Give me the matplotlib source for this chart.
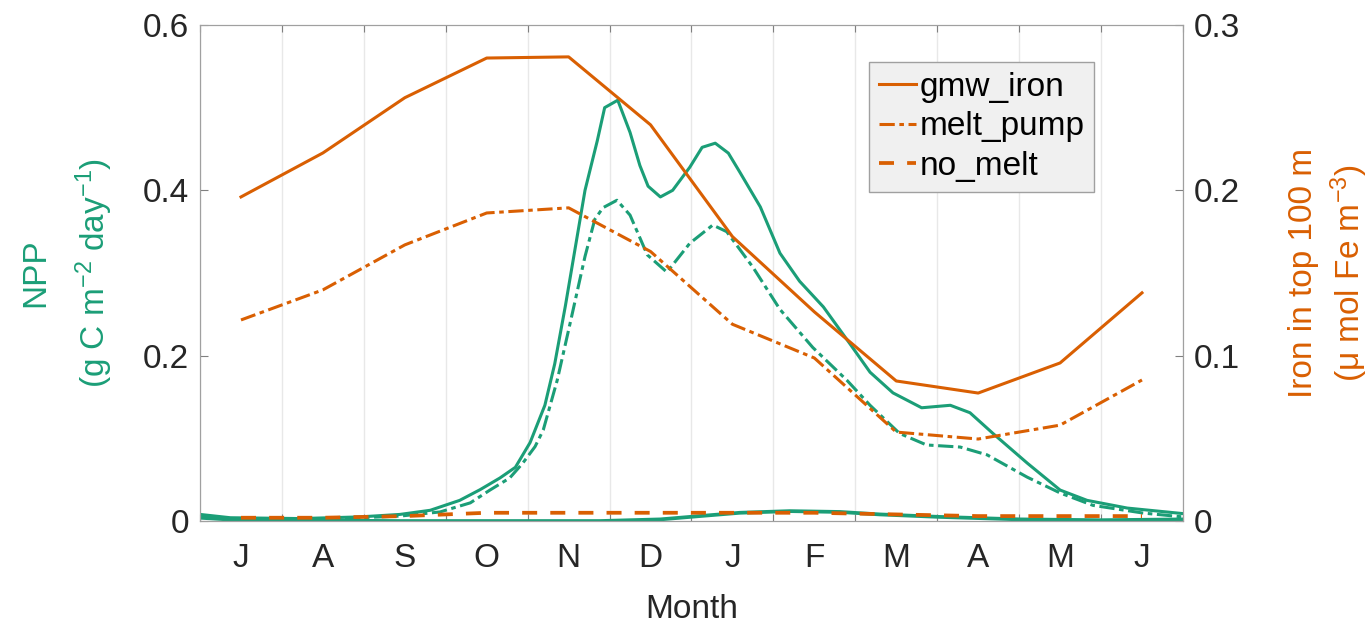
import numpy as np
import matplotlib
matplotlib.use("Agg")
import matplotlib.pyplot as plt

plt.rcParams['font.family'] = ['Liberation Sans', 'DejaVu Sans']
plt.rcParams['mathtext.fontset'] = 'custom'
plt.rcParams['mathtext.rm'] = 'Liberation Sans'
plt.rcParams['mathtext.it'] = 'Liberation Sans:italic'

green = '#1b9e77'
orange = '#d95f02'

months = ['J', 'A', 'S', 'O', 'N', 'D', 'J', 'F', 'M', 'A', 'M', 'J']
mid_month = np.arange(0.5, 12, 1)

# iron in top 100 m, monthly values (right axis)
iron_gmw = [0.196, 0.2226, 0.256, 0.280, 0.2807, 0.2396, 0.172, 0.1265, 0.0847, 0.0774, 0.0956, 0.138]
iron_pump = [0.1216, 0.1398, 0.167, 0.1863, 0.1894, 0.163, 0.119, 0.0986, 0.0538, 0.0496, 0.058, 0.0853]
iron_nomelt = [0.002, 0.002, 0.003, 0.005, 0.005, 0.005, 0.005, 0.005, 0.004, 0.003, 0.003, 0.003]

# NPP (left axis), read along the season (x in months since start of July)
npp_gmw_x = [0.00, 0.37, 1.22, 1.95, 2.44, 2.81, 3.17, 3.42, 3.66, 3.85, 4.03, 4.21, 4.33, 4.46,
             4.58, 4.70, 4.85, 4.94, 5.10, 5.25, 5.37, 5.47, 5.62, 5.77, 5.98, 6.13, 6.29, 6.45,
             6.59, 6.84, 7.08, 7.32, 7.61, 7.93, 8.18, 8.46, 8.81, 9.16, 9.40, 9.68, 10.10,
             10.50, 10.83, 11.32, 12.00]
npp_gmw = [0.008, 0.004, 0.003, 0.005, 0.008, 0.013, 0.025, 0.038, 0.052, 0.065, 0.095, 0.14,
           0.19, 0.26, 0.33, 0.40, 0.46, 0.50, 0.509, 0.47, 0.43, 0.405, 0.392, 0.40, 0.428,
           0.452, 0.457, 0.445, 0.422, 0.38, 0.324, 0.29, 0.259, 0.215, 0.18, 0.155, 0.137,
           0.140, 0.131, 0.106, 0.070, 0.0375, 0.025, 0.0157, 0.009]

npp_pump_x = [0.00, 0.37, 1.22, 1.95, 2.44, 2.93, 3.30, 3.54, 3.78, 3.94, 4.09, 4.19, 4.36,
              4.52, 4.70, 4.82, 4.92, 5.09, 5.25, 5.46, 5.70, 5.98, 6.26, 6.43, 6.75, 7.08,
              7.48, 7.90, 8.18, 8.54, 8.87, 9.28, 9.61, 10.10, 10.50, 10.90, 11.51, 12.00]
npp_pump = [0.006, 0.003, 0.002, 0.004, 0.006, 0.011, 0.022, 0.0375, 0.052, 0.07, 0.09, 0.11,
            0.17, 0.24, 0.32, 0.365, 0.379, 0.388, 0.370, 0.322, 0.301, 0.336, 0.358, 0.350,
            0.307, 0.256, 0.21, 0.17, 0.14, 0.106, 0.092, 0.0895, 0.080, 0.053, 0.034, 0.019,
            0.0097, 0.005]

npp_nomelt_x = [0.00, 0.50, 2.44, 4.88, 5.62, 6.10, 6.59, 7.20, 7.81, 8.30, 9.03, 10.01, 10.99, 12.00]
npp_nomelt = [0.004, 0.001, 0.0, 0.0, 0.002, 0.006, 0.010, 0.012, 0.011, 0.008, 0.005, 0.002, 0.001, 0.002]

fs = 24

fig = plt.figure(figsize=(13.72, 6.24), dpi=100)
ax = fig.add_axes([0.1458, 0.165, 0.7164, 0.795])
ax2 = ax.twinx()

lw = 2.2
ax.plot(npp_gmw_x, npp_gmw, color=green, lw=lw)
ax.plot(npp_pump_x, npp_pump, color=green, lw=lw, dashes=(5, 1.5, 1.5, 1.5))
ax.plot(npp_nomelt_x, npp_nomelt, color=green, lw=lw + 0.5)

ax2.plot(mid_month, iron_gmw, color=orange, lw=lw, label='gmw_iron')
ax2.plot(mid_month, iron_pump, color=orange, lw=lw, dashes=(5, 1.5, 1.5, 1.5), label='melt_pump')
ax2.plot(mid_month, iron_nomelt, color=orange, lw=lw + 0.5, dashes=(4, 3.5), label='no_melt')

ax.set_xlim(0, 12)
ax.set_ylim(0, 0.6)
ax2.set_ylim(0, 0.3)
ax.set_yticks([0, 0.2, 0.4, 0.6])
ax.set_yticklabels(['0', '0.2', '0.4', '0.6'])
ax2.set_yticks([0, 0.1, 0.2, 0.3])
ax2.set_yticklabels(['0', '0.1', '0.2', '0.3'])

ax.set_xticks(np.arange(0, 13, 1))
ax.set_xticklabels([''] * 13)
ax.set_xticks(mid_month, minor=True)
ax.set_xticklabels(months, minor=True)
ax.tick_params(axis='x', which='minor', length=0, pad=16, labelsize=fs, labelcolor='#262626')
ax.tick_params(axis='x', which='major', direction='in', length=5, top=True, color='#808080')
ax.tick_params(axis='y', direction='in', length=6, labelsize=fs, labelcolor='#262626',
               color='#808080', pad=8)
ax2.tick_params(axis='y', direction='in', length=6, labelsize=fs, labelcolor='#262626',
                color='#808080', pad=8)
ax.grid(axis='x', which='major', color='#e8e8e8', lw=1)
ax.set_axisbelow(True)

for a in (ax, ax2):
    for s in a.spines.values():
        s.set_color('#a0a0a0')

ax.set_xlabel('Month', fontsize=fs, color='#262626', labelpad=14)
ax.set_ylabel('NPP\n(g C m$^{-2}$ day$^{-1}$)', fontsize=fs, color=green, labelpad=20,
              linespacing=1.7)
ax2.set_ylabel('Iron in top 100 m\n(μ mol Fe m$^{-3}$)', fontsize=fs, color=orange, labelpad=34,
               linespacing=1.3)

leg = ax2.legend(loc='upper right', bbox_to_anchor=(0.910, 0.925), fontsize=fs,
                 facecolor='#f0f0f0', edgecolor='#a0a0a0', framealpha=1, fancybox=False,
                 handlelength=1.1, handletextpad=0.1, borderpad=0.3, labelspacing=0.25,
                 borderaxespad=0)
leg.get_frame().set_linewidth(1.0)

fig.savefig('out.png', dpi=100)
